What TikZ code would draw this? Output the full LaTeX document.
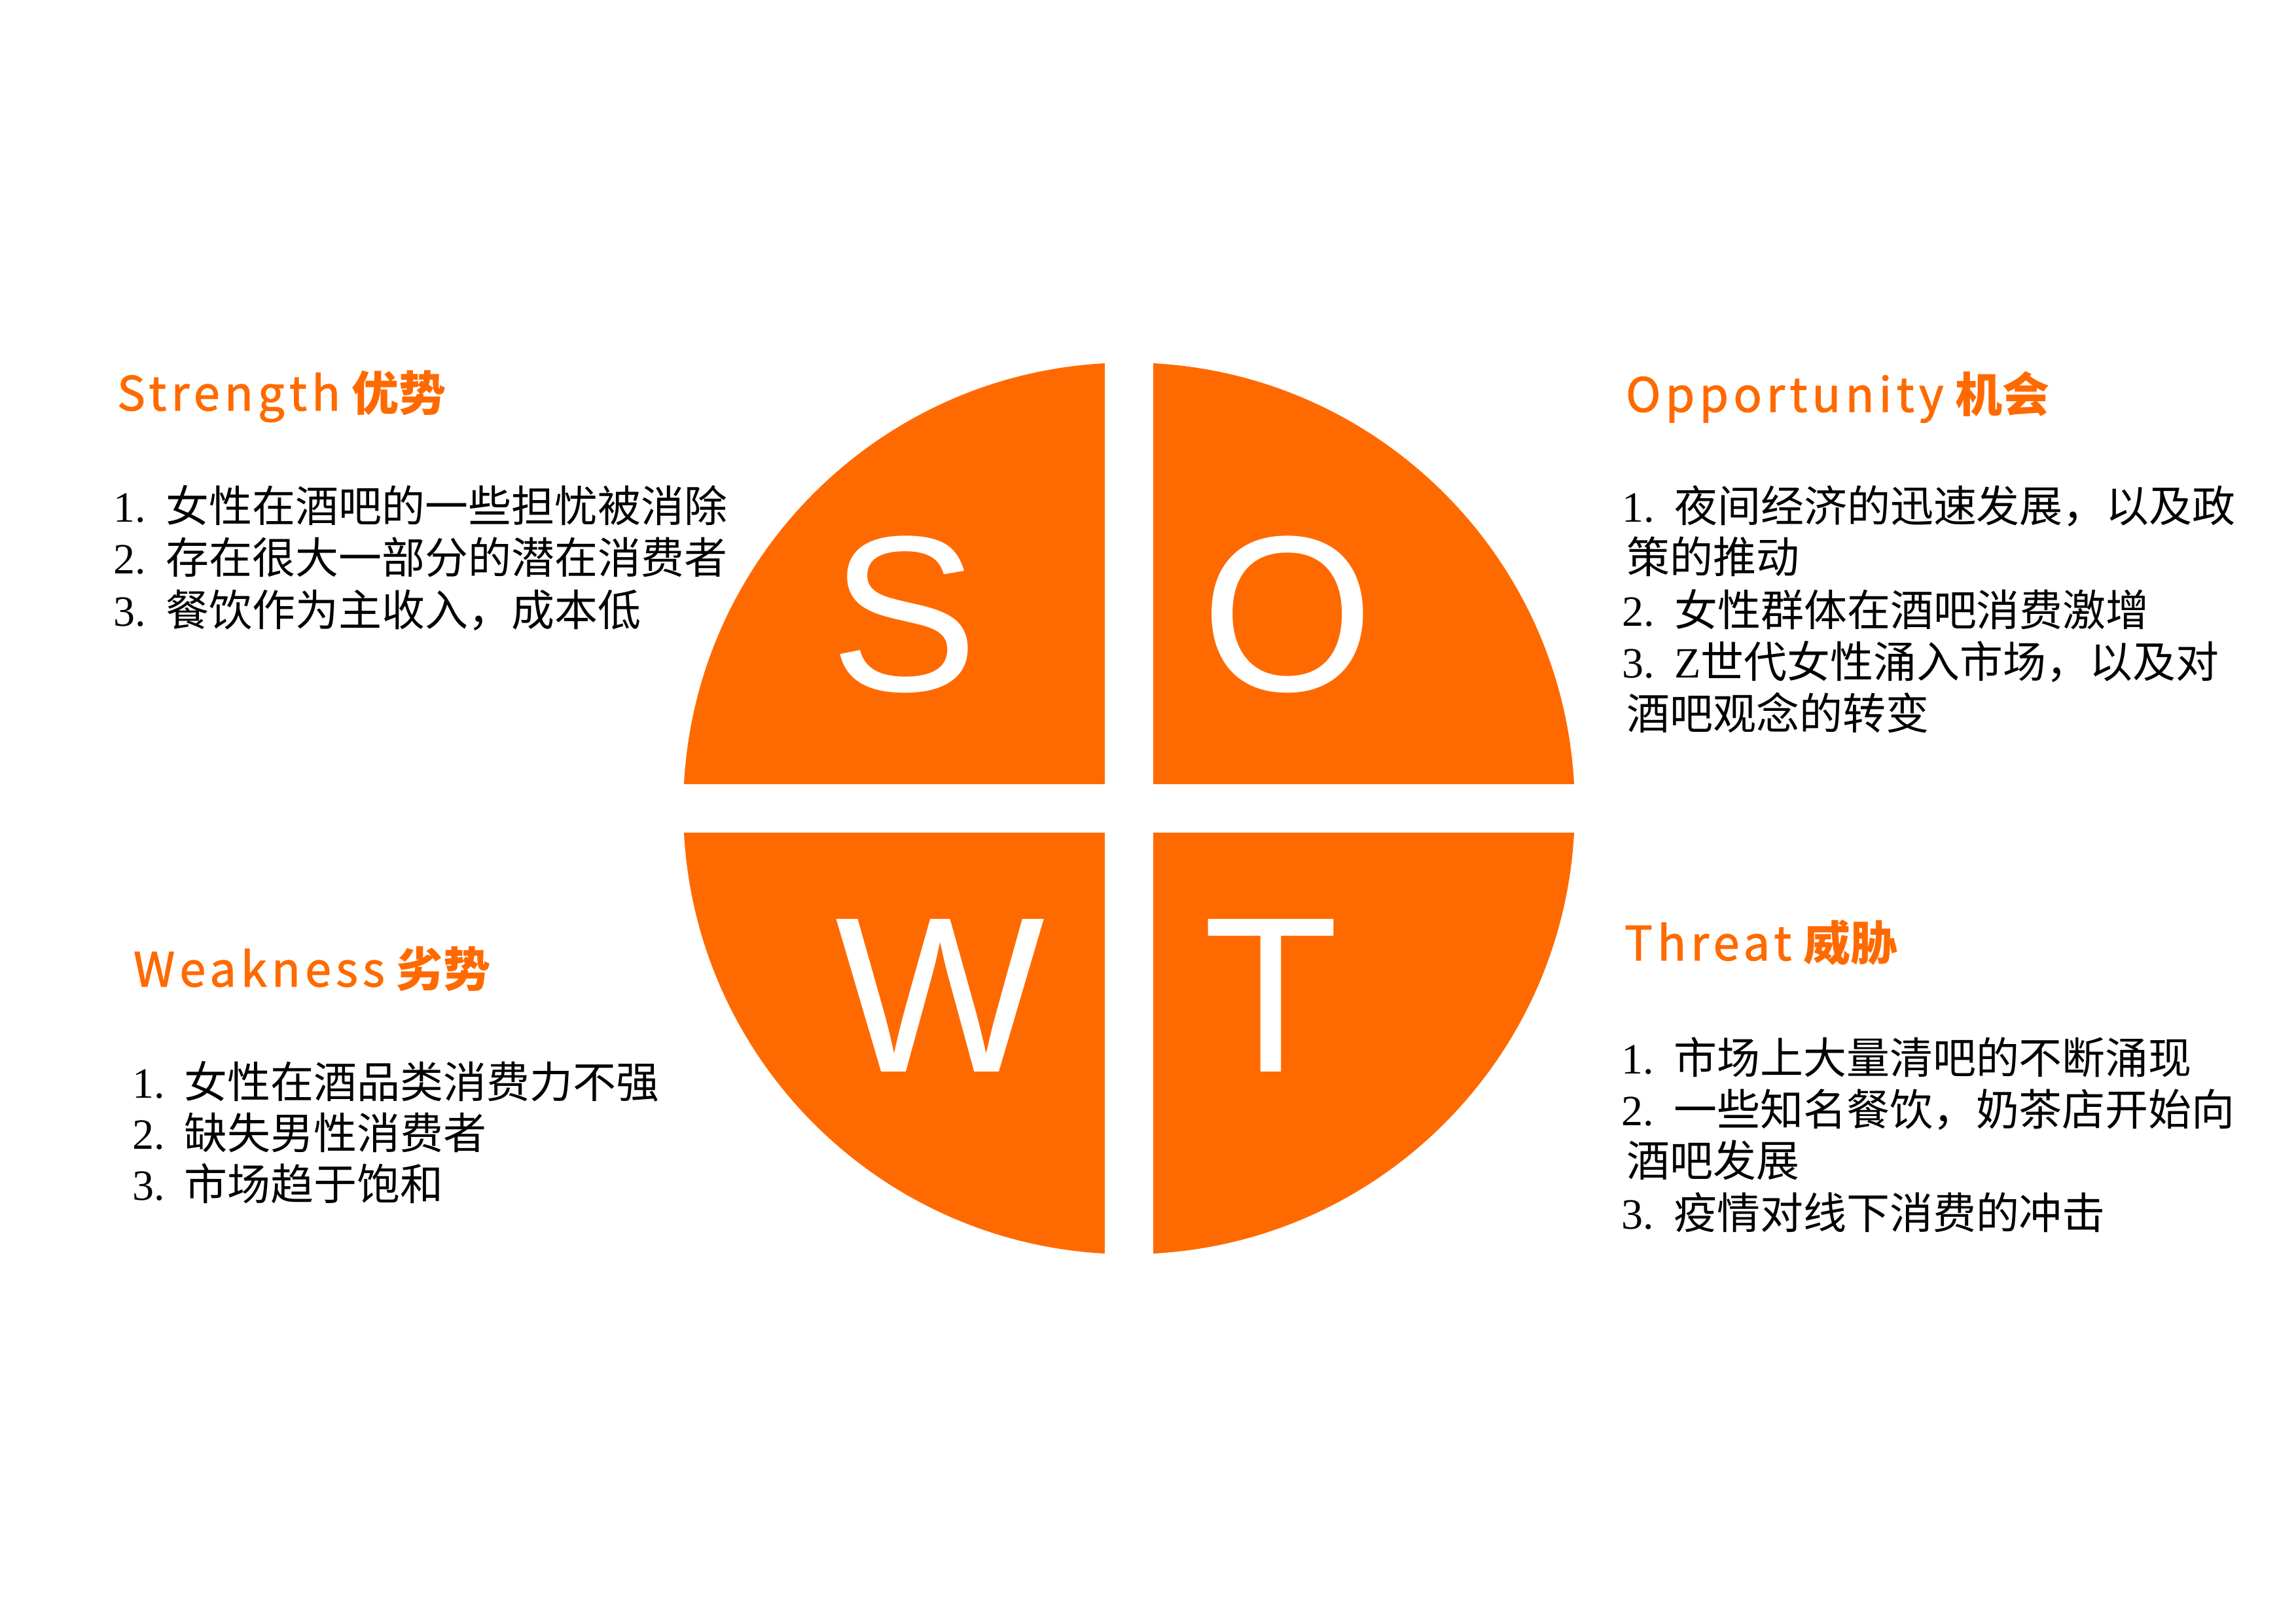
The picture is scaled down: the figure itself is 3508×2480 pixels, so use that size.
\documentclass[tikz,border=0pt]{standalone}
\usepackage{fontspec}
\setmainfont{Liberation Serif}
\newfontfamily\cjk{Noto Sans CJK SC}
\newfontfamily\titlelat[LetterSpace=10,FakeBold=1.5]{Noto Sans CJK SC}
\newfontfamily\bigsans{Liberation Sans}
\definecolor{swotorange}{HTML}{FF6A00}
\newcommand\itemno[1]{\makebox[8.0pt][l]{#1}}
\tikzset{
  bigletter/.style={font=\bigsans\fontsize{33.9pt}{34pt}\selectfont, text=white, anchor=base, inner sep=0pt},
  swottitle/.style={font=\fontsize{7.2pt}{8pt}\selectfont, text=swotorange, anchor=base west, inner sep=0pt},
  bodyline/.style={font=\fontsize{6.6pt}{7pt}\selectfont, text=black, anchor=base west, inner sep=0pt},
}
\begin{document}
\begin{tikzpicture}[x=0.1pt,y=-0.1pt]
\useasboundingbox (0,0) rectangle (3508,2480);
% circle with cross gap
\fill[swotorange] (1725,1235) circle[radius=681];
\fill[white] (1688,500) rectangle (1762,1970);
\fill[white] (1000,1198) rectangle (2450,1272);
% big letters
\node[bigletter] (S) at (1382,1055) {S};
\node[bigletter] (O) at (1967,1055) {O};
\node[bigletter] (W) at (1436,1637) {W};
\node[bigletter] (T) at (1942,1637) {T};
% Strength
\node[swottitle] (st) at (177,627) {{\titlelat Strength} {\cjk\bfseries 优势}};
\node[bodyline] (s1) at (172,797) {\itemno{1.}{\cjk 女性在酒吧的一些担忧被消除}};
\node[bodyline] (s2) at (172,876) {\itemno{2.}{\cjk 存在很大一部分的潜在消费者}};
\node[bodyline] (s3) at (172,956) {\itemno{3.}{\cjk 餐饮作为主收入，成本低}};
% Opportunity
\node[swottitle] (ot) at (2482,629) {{\titlelat Opportunity} {\cjk\bfseries 机会}};
\node[bodyline] (o1) at (2476,797) {\itemno{1.}{\cjk 夜间经济的迅速发展，以及政}};
\node[bodyline] (o2) at (2483,875) {{\cjk 策的推动}};
\node[bodyline] (o3) at (2476,956) {\itemno{2.}{\cjk 女性群体在酒吧消费激增}};
\node[bodyline] (o4) at (2476,1035) {\itemno{3.}Z{\cjk 世代女性涌入市场，以及对}};
\node[bodyline] (o5) at (2483,1114) {{\cjk 酒吧观念的转变}};
% Weakness
\node[swottitle] (wt) at (202,1507) {{\titlelat Weakness} {\cjk\bfseries 劣势}};
\node[bodyline] (w1) at (200,1677) {\itemno{1.}{\cjk 女性在酒品类消费力不强}};
\node[bodyline] (w2) at (200,1755) {\itemno{2.}{\cjk 缺失男性消费者}};
\node[bodyline] (w3) at (200,1833) {\itemno{3.}{\cjk 市场趋于饱和}};
% Threat
\node[swottitle] (tt) at (2480,1467) {{\titlelat Threat} {\cjk\bfseries 威胁}};
\node[bodyline] (t1) at (2475,1640) {\itemno{1.}{\cjk 市场上大量清吧的不断涌现}};
\node[bodyline] (t2) at (2475,1719) {\itemno{2.}{\cjk 一些知名餐饮，奶茶店开始向}};
\node[bodyline] (t3) at (2483,1797) {{\cjk 酒吧发展}};
\node[bodyline] (t4) at (2475,1877) {\itemno{3.}{\cjk 疫情对线下消费的冲击}};
\end{tikzpicture}
\end{document}
